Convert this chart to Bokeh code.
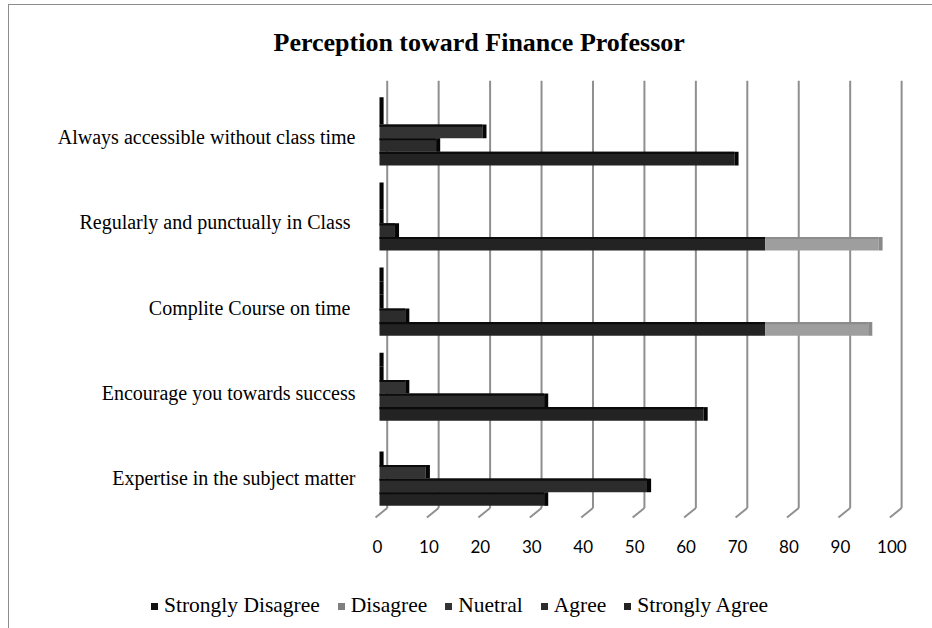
import numpy as np
from bokeh.plotting import figure
from bokeh.layouts import column
from bokeh.models import (ColumnDataSource, Range1d, LinearAxis, FixedTicker, Div)
from bokeh.embed import file_html
from bokeh.resources import INLINE

# ---------------- data ----------------
categories = [
    "Always accessible without class time",
    "Regularly and punctually in Class ",
    "Complite Course on time ",
    "Encourage you towards success",
    "Expertise in the subject matter",
]
series_names = ["Strongly Disagree", "Disagree", "Nuetral", "Agree", "Strongly Agree"]
strongly_disagree = [0, 0, 0, 0, np.nan]
disagree = [0, 0, 0, 0, 0]
nuetral = [20, 0, 0, 5, 9]
agree = [11, 3, 5, 32, 52]
strongly_agree = [69, 97, 95, 63, 32]
x_ticks = [0, 10, 20, 30, 40, 50, 60, 70, 80, 90, 100]

series_values = [strongly_disagree, disagree, nuetral, agree, strongly_agree]

# ---------------- style ----------------
colors = ["#111111", "#7f7f7f", "#333333", "#2c2c2c", "#232323"]
faded_color, faded_cap = "#9e9e9e", "#8a8a8a"
fade_from = 75          # beyond this the front bars are rendered light grey
row_h = 0.16            # bar thickness in category units
cap_w = 0.8             # depth face at the end of a bar
strip_h = 0.025         # top face
grid_color = "#8f8f8f"
back_shift, front_shift = 1.5, -0.78
wall_top, wall_bottom, floor_front = -0.598, 4.426, 4.537

X0, X1 = -2.333, 103.42
Y_BOTTOM, Y_TOP = 4.584, -0.598

p = figure(width=916, height=585, output_backend="svg", toolbar_location=None,
           x_range=Range1d(X0, X1), y_range=Range1d(Y_BOTTOM, Y_TOP),
           x_axis_location=None, y_axis_location=None,
           min_border_left=358, min_border_right=14, min_border_top=74,
           min_border_bottom=69)
p.outline_line_color = None
p.xgrid.visible = False
p.ygrid.visible = False
p.background_fill_color = "white"
p.border_fill_color = "white"

p.title.text = "Perception toward Finance Professor"
p.title.text_font = "Liberation Serif"
p.title.text_font_style = "bold"
p.title.text_font_size = "26px"
p.title.text_color = "black"
p.title.align = "left"
p.title.offset = -94
p.title.vertical_align = "top"
p.title.standoff = 44

p.extra_x_ranges = {"lbl": Range1d(X0 + 0.4, X1 + 0.4)}
p.extra_y_ranges = {"lbl": Range1d(Y_BOTTOM - 0.07, Y_TOP - 0.07)}

xaxis = LinearAxis(x_range_name="lbl", ticker=FixedTicker(ticks=x_ticks),
                   axis_line_color=None, major_tick_line_color=None,
                   minor_tick_line_color=None, major_label_standoff=12,
                   major_label_text_font="Lato", major_label_text_font_size="17px",
                   major_label_text_color="black")
p.add_layout(xaxis, "below")

yaxis = LinearAxis(y_range_name="lbl", ticker=FixedTicker(ticks=list(range(len(categories)))),
                   major_label_overrides={i: c for i, c in enumerate(categories)},
                   axis_line_color=None, major_tick_line_color=None,
                   minor_tick_line_color=None, major_label_standoff=6,
                   major_label_text_font="Liberation Serif",
                   major_label_text_font_size="20px", major_label_text_color="black")
p.add_layout(yaxis, "left")

# back wall grid lines and floor
gx = np.array(x_ticks, dtype=float)
p.segment(x0=gx + back_shift, y0=wall_top, x1=gx + back_shift, y1=wall_bottom,
          line_color=grid_color, line_width=2)
p.segment(x0=gx + back_shift, y0=wall_bottom, x1=gx + front_shift, y1=floor_front,
          line_color=grid_color, line_width=2)

# bars
n_series = len(series_names)
for j, (name, vals) in enumerate(zip(series_names, series_values)):
    v = np.array(vals, dtype=float)
    idx = np.arange(len(categories), dtype=float)
    ok = np.isfinite(v)
    v, idx = v[ok], idx[ok]
    yc = idx + (j - (n_series - 1) / 2) * row_h
    dark_right = np.minimum(v, fade_from) if j == n_series - 1 else v
    src = ColumnDataSource(dict(y=yc, right=dark_right,
                                ytop=yc - row_h / 2 + strip_h / 2))
    p.hbar(y="y", left=0, right="right", height=row_h, source=src,
           fill_color=colors[j], line_color=None)
    p.hbar(y="ytop", left=0, right="right", height=strip_h, source=src,
           fill_color="#0b0b0b", line_color=None)
    if j == n_series - 1:
        over = v > fade_from
        fsrc = ColumnDataSource(dict(y=yc[over], right=v[over],
                                     ytop=yc[over] - row_h / 2 + strip_h / 2))
        p.hbar(y="y", left=fade_from, right="right", height=row_h, source=fsrc,
               fill_color=faded_color, line_color=None)
        p.hbar(y="ytop", left=fade_from, right="right", height=strip_h, source=fsrc,
               fill_color="#8c8c8c", line_color=None)
        cap_colors = [faded_cap if o else "#050505" for o in over]
    else:
        cap_colors = ["#050505"] * len(v)
    csrc = ColumnDataSource(dict(left=v, right=v + cap_w, top=yc - row_h / 2,
                                 bottom=yc + row_h / 2, c=cap_colors))
    p.quad(left="left", right="right", top="top", bottom="bottom", source=csrc,
           fill_color="c", line_color=None)

# ---------------- legend strip ----------------
parts = []
for j, name in enumerate(series_names):
    gap = 0 if j == 0 else 18
    parts.append(
        f'<span style="display:inline-block;width:7px;height:7px;background:{colors[j]};'
        f'margin-left:{gap}px;margin-right:6px;vertical-align:middle;position:relative;top:-1px"></span>'
        f'<span>{name}</span>')
legend_div = Div(text="".join(parts), width=916, height=38,
                 styles={"font-family": "'Liberation Serif'", "font-size": "21.5px",
                         "color": "black", "line-height": "20px",
                         "padding-left": "137px", "white-space": "nowrap"})

layout = column(p, legend_div, spacing=0)
layout.styles = {"margin-left": "8px", "margin-top": "4px",
                 "border-left": "1px solid #8c8c8c", "border-top": "1px solid #8c8c8c"}

open("out.html", "w").write(file_html(layout, INLINE))
